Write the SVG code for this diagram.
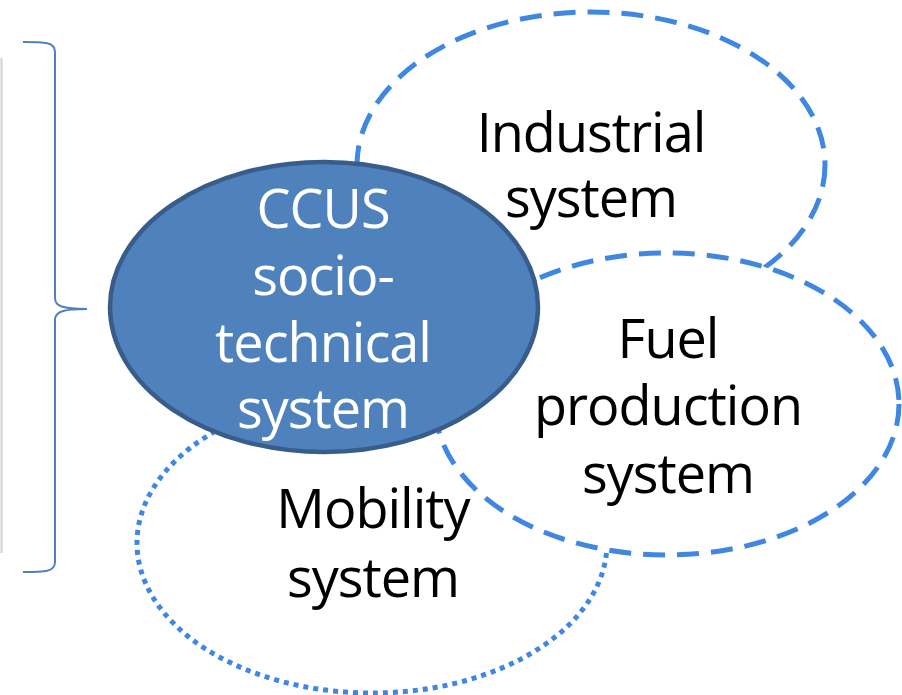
<svg xmlns="http://www.w3.org/2000/svg" width="902" height="695" viewBox="0 0 902 695">
<style>
.sys{fill:#fff;stroke:#3f87e0;stroke-width:5}
.dash{stroke-dasharray:22 12}
.dot{stroke-dasharray:5 5}
.t{font-family:"Open Sans","Noto Sans",sans-serif;font-size:54px;letter-spacing:-1px;text-anchor:middle;fill:#000}
.w{fill:#fff}
</style>
<rect x="0" y="0" width="902" height="695" fill="#fff"/>
<line x1="1.5" y1="58" x2="1.5" y2="553" stroke="#d0d0d0" stroke-width="2"/>
<g id="bracket">
<path d="M23,42 C45,42 55,42 55,52 L55,298 C55,306 62,309 87,309 C62,309 55,312 55,320 L55,562 C55,572 45,572 23,572" fill="none" stroke="#4f81bd" stroke-width="2"/>
</g>
<g id="industrial">
<ellipse class="sys dash" cx="591" cy="165" rx="234" ry="153"/>
<text class="t" x="591" y="152">Industrial</text>
<text class="t" x="591" y="217">system</text>
</g>
<g id="mobility">
<ellipse class="sys dot" cx="372" cy="543" rx="235" ry="150"/>
<text class="t" x="373" y="528">Mobility</text>
<text class="t" x="373" y="597">system</text>
</g>
<g id="fuel">
<ellipse class="sys dash" cx="667" cy="404" rx="232" ry="151"/>
<text class="t" x="668" y="358">Fuel</text>
<text class="t" x="668" y="425">production</text>
<text class="t" x="668" y="493">system</text>
</g>
<g id="ccus">
<ellipse cx="324" cy="307" rx="214" ry="145" fill="#4f81bd" stroke="#385d8a" stroke-width="4.5"/>
<text class="t w" x="323" y="228">CCUS</text>
<text class="t w" x="323" y="295">socio-</text>
<text class="t w" x="323" y="362">technical</text>
<text class="t w" x="323" y="428">system</text>
</g>
<g id="connectors"></g>
</svg>
